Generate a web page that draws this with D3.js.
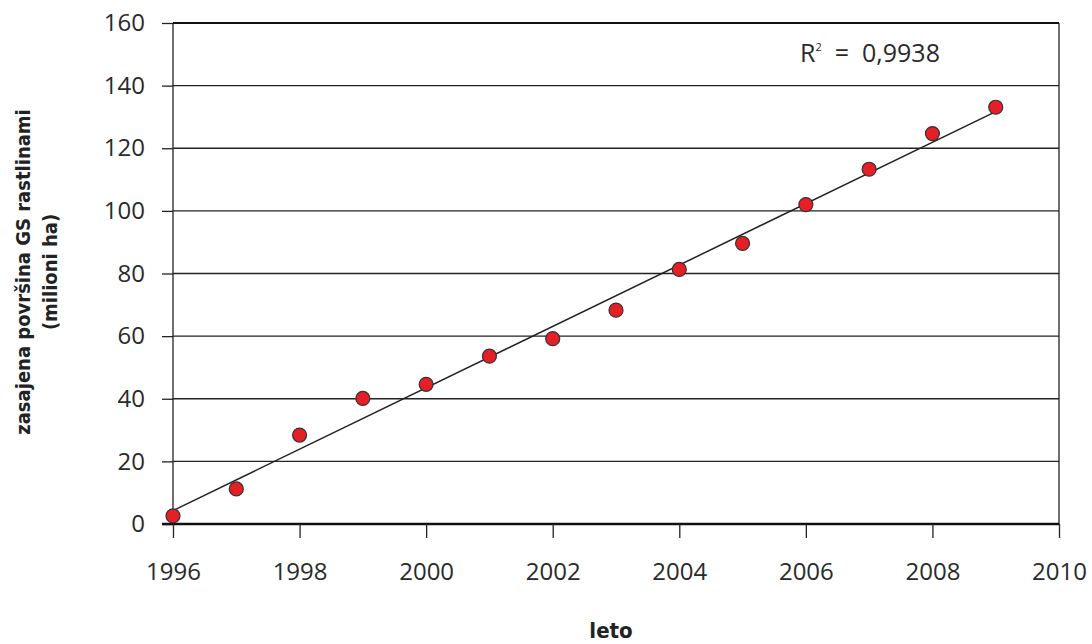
<!DOCTYPE html>
<html><head><meta charset="utf-8">
<script src="https://cdn.jsdelivr.net/npm/d3@7"></script>
<style>body{margin:0;background:#fff}</style></head>
<body><svg id="c" width="1092" height="644"></svg>
<script>
const years = [1996,1997,1998,1999,2000,2001,2002,2003,2004,2005,2006,2007,2008,2009];
const areas = [2.6,11.2,28.4,40.1,44.6,53.6,59.2,68.3,81.3,89.6,102.0,113.3,124.7,133.1];
const xTicks = [1996,1998,2000,2002,2004,2006,2008,2010];
const yTicks = [0,20,40,60,80,100,120,140,160];
const r2Label = "0,9938";
const yLabelLines = ["zasajena površina GS rastlinami","(milioni ha)"];
const xLabel = "leto";

const svg = d3.select("#c");
const L=173,R=1059,T=23,B=524;
const x = d3.scaleLinear().domain([1996,2010]).range([L,R]);
const y = d3.scaleLinear().domain([0,160]).range([B,T]);
const font = "'DejaVu Sans Condensed','DejaVu Sans',sans-serif";
const tickFont = "'Open Sans','DejaVu Sans',sans-serif";

// gridlines
svg.append("g").selectAll("line").data(yTicks.filter(d=>d>0)).join("line")
  .attr("x1",L).attr("x2",R).attr("y1",d=>y(d)).attr("y2",d=>y(d))
  .attr("stroke","#222").attr("stroke-width",1.3);
svg.append("line").attr("x1",R).attr("x2",R).attr("y1",T).attr("y2",B).attr("stroke","#222").attr("stroke-width",1.3);
svg.append("line").attr("x1",L).attr("x2",R).attr("y1",T).attr("y2",T).attr("stroke","#111").attr("stroke-width",2);

// y axis
const ya = svg.append("g").attr("transform",`translate(${L},0)`)
  .call(d3.axisLeft(y).tickValues(yTicks).tickSize(11).tickPadding(17).tickFormat(d3.format("d")));
ya.select(".domain").attr("stroke","#222").attr("stroke-width",1.3).attr("d",`M0,${T}V${B}`);
ya.selectAll(".tick line").attr("stroke","#222").attr("stroke-width",1.3);
ya.selectAll(".tick text").attr("font-family",tickFont).attr("font-size",24).attr("fill","#2a2a2a");

// x axis
const xa = svg.append("g").attr("transform",`translate(0,${B})`)
  .call(d3.axisBottom(x).tickValues(xTicks).tickSize(14).tickPadding(25).tickFormat(d3.format("d")));
xa.select(".domain").attr("stroke","#111").attr("stroke-width",2.4).attr("d",`M${L-11},0H${R}`);
xa.selectAll(".tick line").attr("stroke","#222").attr("stroke-width",1.3);
xa.selectAll(".tick text").attr("font-family",tickFont).attr("font-size",24).attr("fill","#2a2a2a");

// regression line
const n=years.length, mx=d3.mean(years), my=d3.mean(areas);
const slope=d3.sum(years,(d,i)=>(d-mx)*(areas[i]-my))/d3.sum(years,d=>(d-mx)**2);
const icpt=my-slope*mx;
const x0=years[0], x1=years[n-1];
svg.append("line").attr("x1",x(x0)).attr("y1",y(icpt+slope*x0)).attr("x2",x(x1)).attr("y2",y(icpt+slope*x1))
  .attr("stroke","#222").attr("stroke-width",1.5);

// points
svg.append("g").selectAll("circle").data(years).join("circle")
  .attr("cx",d=>x(d)).attr("cy",(d,i)=>y(areas[i])).attr("r",7)
  .attr("fill","#e61e26").attr("stroke","#333").attr("stroke-width",1.2);

// R2 label
const rt = svg.append("text").attr("x",800).attr("y",62).attr("font-family",tickFont).attr("font-size",25).attr("fill","#2a2a2a").attr("xml:space","preserve");
rt.append("tspan").text("R");
rt.append("tspan").attr("font-size",11).attr("dy",-11).text("2");
rt.append("tspan").attr("dy",11).text("  =  "+r2Label);

// y label
const yl = svg.append("text").attr("transform","translate(0,272) rotate(-90)")
  .attr("text-anchor","middle").attr("font-family",font).attr("font-weight","bold").attr("font-size",20).attr("fill","#222");
yl.append("tspan").attr("x",0).attr("y",30).text(yLabelLines[0]);
yl.append("tspan").attr("x",0).attr("y",57).text(yLabelLines[1]);

// x label
svg.append("text").attr("x",611).attr("y",638).attr("text-anchor","middle").attr("font-family",font)
  .attr("font-weight","bold").attr("font-size",22).attr("fill","#222").text(xLabel);
</script></body></html>
